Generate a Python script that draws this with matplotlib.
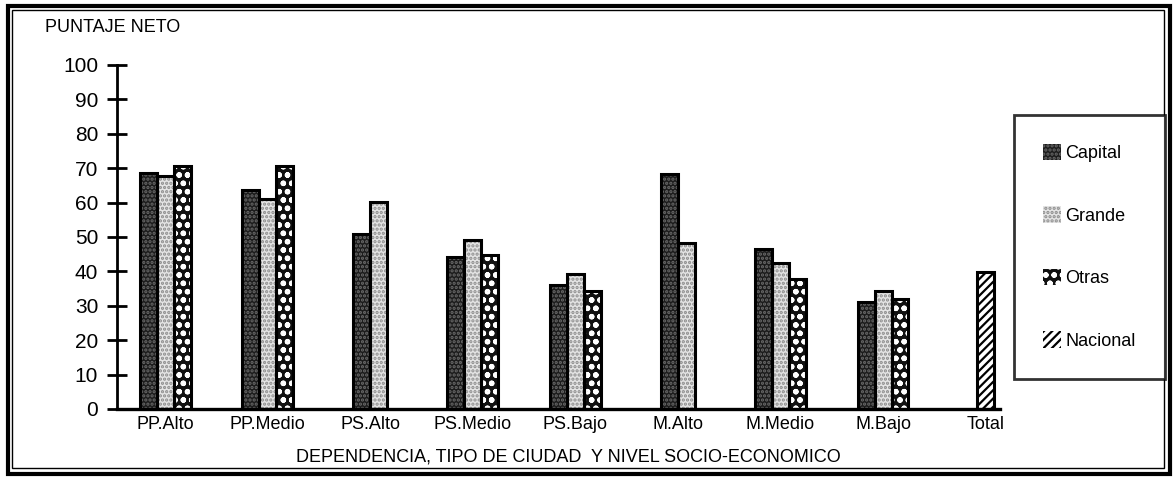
import matplotlib.pyplot as plt
import numpy as np
from matplotlib.patches import Patch, Rectangle

categorias = ['PP.Alto', 'PP.Medio', 'PS.Alto', 'PS.Medio', 'PS.Bajo',
              'M.Alto', 'M.Medio', 'M.Bajo', 'Total']
capital = [68.7, 63.7, 50.8, 44.3, 36.0, 68.2, 46.6, 31.2, np.nan]
grande = [67.7, 61.0, 60.1, 49.1, 39.2, 48.2, 42.3, 34.3, np.nan]
otras = [70.7, 70.7, np.nan, 44.9, 34.4, np.nan, 37.7, 32.0, np.nan]
nacional = [np.nan, np.nan, np.nan, np.nan, np.nan, np.nan, np.nan, np.nan, 39.7]

series = ['Capital', 'Grande', 'Otras', 'Nacional']
# relleno, color del patron, patron
estilos = {
    'Capital': ('#1c1c1c', '#6a6a6a', '....'),
    'Grande': ('#e4e4e4', '#8c8c8c', '....'),
    'Otras': ('#111111', '#ffffff', 'oo'),
    'Nacional': ('#ffffff', '#000000', '////'),
}

plt.rcParams['font.family'] = ['Liberation Sans', 'DejaVu Sans']
plt.rcParams['hatch.linewidth'] = 1.6

fig = plt.figure(figsize=(11.73, 4.82), dpi=100)
ax = fig.add_axes([117 / 1173, 1 - 409 / 482, 883 / 1173, 344 / 482])

datos = [capital, grande, otras, nacional]
x = np.arange(len(categorias))
w = 0.165
for i in range(len(categorias)):
    presentes = [j for j in range(4) if not np.isnan(datos[j][i])]
    n = len(presentes)
    for k, j in enumerate(presentes):
        pos = x[i] + (k - (n - 1) / 2) * w
        cara, patron_color, patron = estilos[series[j]]
        ax.bar(pos, datos[j][i], w, color=cara, edgecolor=patron_color,
               hatch=patron, linewidth=0, zorder=2)
        ax.bar(pos, datos[j][i], w, fill=False, edgecolor='black',
               linewidth=2.2, zorder=3)

ax.set_xlim(-0.47, 8.14)
ax.set_ylim(0, 100)
ax.set_yticks(range(0, 101, 10))
ax.set_xticks(x)
ax.set_xticklabels(categorias, fontsize=13)
ax.tick_params(axis='x', length=0, pad=5)
ax.tick_params(axis='y', direction='inout', length=15, width=2, labelsize=15, pad=6)
for s in ['top', 'right']:
    ax.spines[s].set_visible(False)
ax.spines['left'].set_linewidth(2)
ax.spines['bottom'].set_linewidth(2.4)

fig.text(45 / 1173, 1 - 27 / 482, 'PUNTAJE NETO', fontsize=13, va='center', ha='left')
fig.text(568 / 1173, 1 - 457 / 482, 'DEPENDENCIA, TIPO DE CIUDAD  Y NIVEL SOCIO-ECONOMICO',
         fontsize=13, va='center', ha='center')

handles = [Patch(facecolor=estilos[s][0], edgecolor=estilos[s][1], hatch=estilos[s][2],
                 linewidth=0) for s in series]
leg = fig.legend(handles, series, loc='upper left',
                 bbox_to_anchor=(1014 / 1173, 1 - 115 / 482), fontsize=13,
                 frameon=True, fancybox=False, edgecolor='black', borderpad=1.6,
                 labelspacing=2.45, handlelength=1.0, handleheight=1.0, handletextpad=0.25,
                 borderaxespad=0)
leg.get_frame().set_linewidth(2)

# marco doble de la figura
fig.patches.append(Rectangle((8 / 1173, 1 - 474 / 482), 1162 / 1173, 468 / 482,
                             transform=fig.transFigure, fill=False, edgecolor='black',
                             linewidth=3))
fig.patches.append(Rectangle((12 / 1173, 1 - 468 / 482), 1152 / 1173, 458 / 482,
                             transform=fig.transFigure, fill=False, edgecolor='black',
                             linewidth=1))

fig.savefig('out.png', dpi=100)
